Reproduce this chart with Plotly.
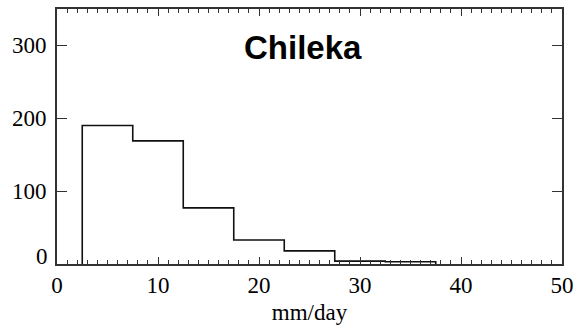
import plotly.graph_objects as go

# Histogram data (mm/day bins, counts)
bin_edges = [2.5, 7.5, 12.5, 17.5, 22.5, 27.5, 32.5, 37.5]
counts = [190, 169, 77, 33, 18, 4, 3]
title_text = "Chileka"
x_title = "mm/day"
x_ticks = [0, 10, 20, 30, 40, 50]
y_ticks = [0, 100, 200, 300]
y_ticktext = ["", "100", "200", "300"]

# Build step outline from bins
xs = [bin_edges[0]]
ys = [0]
for i, c in enumerate(counts):
    xs += [bin_edges[i], bin_edges[i + 1]]
    ys += [c, c]
xs.append(bin_edges[-1])
ys.append(0)

fig = go.Figure()
fig.add_trace(go.Scatter(
    x=xs, y=ys, mode="lines",
    line=dict(color="#111111", width=1.6),
    showlegend=False, cliponaxis=False, hoverinfo="skip",
))

fig.add_annotation(
    x=24.4, y=297, xref="x", yref="y", text="<b>" + title_text + "</b>",
    showarrow=False, font=dict(family="Liberation Sans", size=33, color="black"),
    xanchor="center", yanchor="middle",
)

axis_font = dict(family="Liberation Serif", size=23, color="black")

# zero label on y axis sits slightly raised
fig.add_annotation(
    x=0, y=y_ticks[0], xref="paper", yref="y", text="0", showarrow=False,
    font=axis_font, xanchor="right", yanchor="middle", xshift=-7, yshift=8,
)

fig.update_xaxes(
    range=[0, 50], tickvals=x_ticks, ticks="inside", ticklen=7, tickwidth=1.2,
    tickcolor="#333", showline=True, linecolor="#333", linewidth=1.6, mirror="allticks",
    showgrid=False, zeroline=False, tickfont=axis_font, automargin=False,
    minor=dict(dtick=1, ticks="inside", ticklen=4, tickwidth=1, tickcolor="#333", showgrid=False),
    title=dict(text=x_title, font=axis_font, standoff=6),
)
fig.update_yaxes(
    range=[0, 350], tickvals=y_ticks, ticktext=y_ticktext, ticks="inside", ticklen=10, tickwidth=1.2,
    tickcolor="#333", showline=True, linecolor="#333", linewidth=1.6, mirror="allticks",
    showgrid=False, zeroline=False, tickfont=axis_font, ticklabelstandoff=4, automargin=False,
)
fig.update_layout(
    width=577, height=332,
    margin=dict(l=57, r=15, t=9, b=68),
    plot_bgcolor="white", paper_bgcolor="white",
)
fig.write_html("out.html")
